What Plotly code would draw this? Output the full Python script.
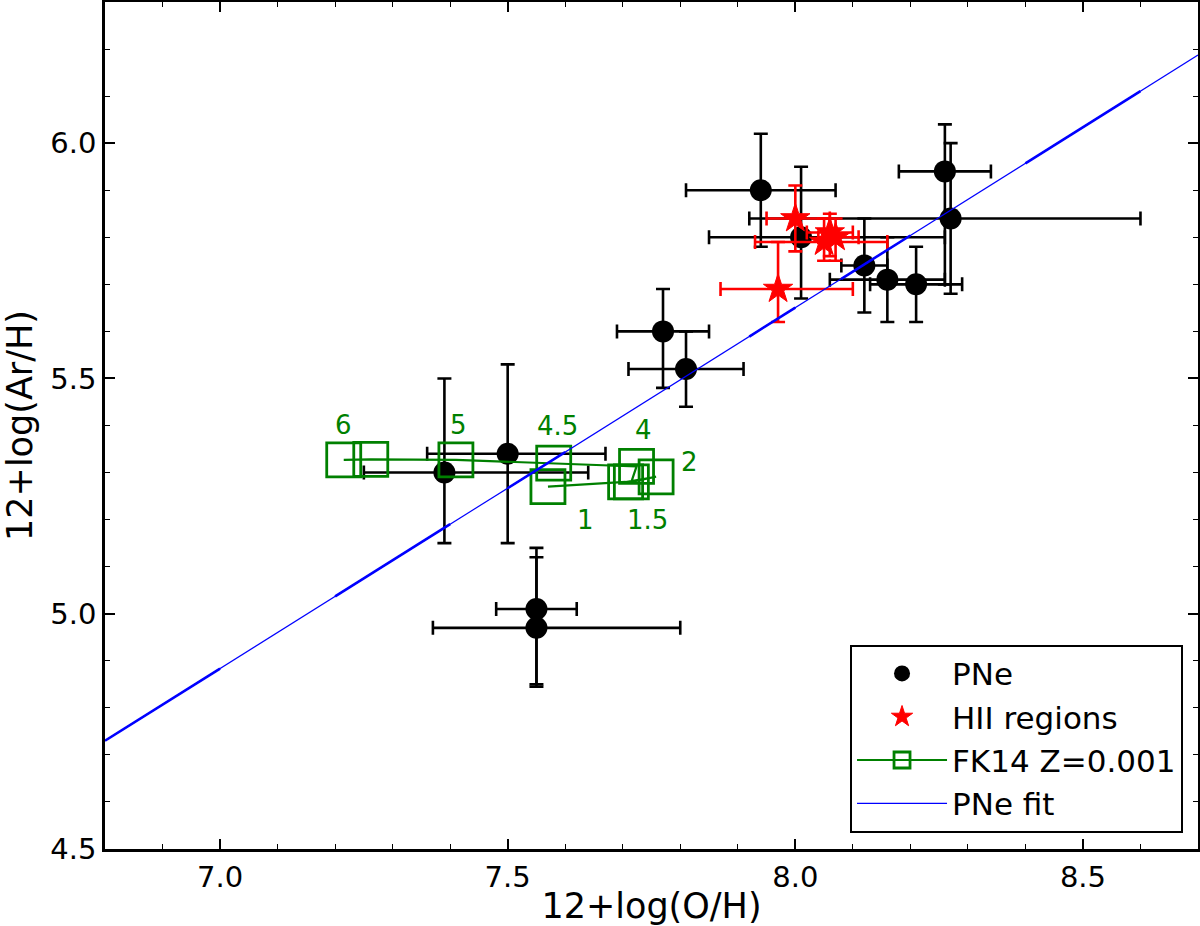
import plotly.graph_objects as go

# ---------------- data ----------------
# PNe (12+log(O/H), 12+log(Ar/H)) with lower/upper error limits
pne_x    = [7.94, 8.01, 8.26, 8.27, 8.12, 8.16, 8.21, 7.77, 7.81, 7.50, 7.39, 7.55, 7.55]
pne_x_lo = [7.81, 7.85, 8.18, 7.92, 8.08, 8.06, 8.13, 7.69, 7.71, 7.36, 7.25, 7.48, 7.37]
pne_x_hi = [8.07, 8.26, 8.34, 8.60, 8.16, 8.26, 8.29, 7.85, 7.91, 7.67, 7.64, 7.62, 7.80]
pne_y    = [5.90, 5.80, 5.94, 5.84, 5.74, 5.71, 5.70, 5.60, 5.52, 5.34, 5.30, 5.01, 4.97]
pne_y_lo = [5.78, 5.67, 5.70, 5.68, 5.64, 5.62, 5.62, 5.48, 5.44, 5.15, 5.15, 4.85, 4.845]
pne_y_hi = [6.02, 5.95, 6.04, 6.00, 5.84, 5.80, 5.78, 5.69, 5.60, 5.53, 5.50, 5.14, 5.12]

# HII regions
hii_x    = [8.00, 7.97, 8.05, 8.06, 8.07]
hii_x_lo = [7.95, 7.87, 7.93, 8.02, 8.04]
hii_x_hi = [8.06, 8.10, 8.16, 8.10, 8.11]
hii_y    = [5.84, 5.69, 5.79, 5.81, 5.80]
hii_y_lo = [5.77, 5.62, 5.75, 5.76, 5.75]
hii_y_hi = [5.91, 5.79, 5.84, 5.85, 5.84]

# FK14 Z=0.001 models, ordered by initial mass
fk_mass   = [1, 1.5, 2, 3, 4, 4.5, 5, 5.5, 6]
fk_x      = [7.57, 7.705, 7.758, 7.715, 7.724, 7.58, 7.41, 7.262, 7.215]
fk_y      = [5.27, 5.28, 5.291, 5.28, 5.313, 5.32, 5.327, 5.328, 5.327]
fk_labels = ["1", "1.5", "2", "", "4", "4.5", "5", "", "6"]
# label offsets in pixels (style)
fk_lab_dx = [38, 22, 33, 0, 7, 4, 3, 0, 0]
fk_lab_dy = [-33, -38, 15, 0, 36, 37, 35, 0, 35]

# PNe fit: y = a + b*x
fit_a = 4.73 - 0.767 * 6.8
fit_b = 0.767
fit_x_range = [6.8, 8.7]
fit_thick_segments = [(6.8, 7.0), (7.2, 7.4), (7.5, 7.6), (7.92, 8.0), (8.08, 8.2), (8.4, 8.6)]

x_ticks = [7.0, 7.5, 8.0, 8.5]
y_ticks = [4.5, 5.0, 5.5, 6.0]

# ---------------- figure ----------------
FONT = "DejaVu Sans"
fig = go.Figure()

def errs(v, lo, hi):
    return [h - c for c, h in zip(v, hi)], [c - l for c, l in zip(v, lo)]

px_, mx_ = errs(pne_x, pne_x_lo, pne_x_hi)
py_, my_ = errs(pne_y, pne_y_lo, pne_y_hi)
fig.add_trace(go.Scatter(
    x=pne_x, y=pne_y, mode="markers", name="PNe",
    marker=dict(symbol="circle", size=22, color="black"),
    error_x=dict(type="data", symmetric=False, array=px_, arrayminus=mx_,
                 color="black", thickness=2.6, width=7),
    error_y=dict(type="data", symmetric=False, array=py_, arrayminus=my_,
                 color="black", thickness=2.6, width=7),
))

hx, hmx = errs(hii_x, hii_x_lo, hii_x_hi)
hy, hmy = errs(hii_y, hii_y_lo, hii_y_hi)
fig.add_trace(go.Scatter(
    x=hii_x, y=hii_y, mode="markers", name="HII regions",
    marker=dict(symbol="star", size=22, color="red", line=dict(width=1, color="red")),
    error_x=dict(type="data", symmetric=False, array=hx, arrayminus=hmx,
                 color="red", thickness=2.6, width=7),
    error_y=dict(type="data", symmetric=False, array=hy, arrayminus=hmy,
                 color="red", thickness=2.6, width=7),
))

fig.add_trace(go.Scatter(
    x=fk_x, y=fk_y, mode="lines+markers", name="FK14 Z=0.001",
    line=dict(color="green", width=2.2),
    marker=dict(symbol="square-open", size=34, color="green", line=dict(width=2.8, color="green")),
))

fig.add_trace(go.Scatter(
    x=fit_x_range, y=[fit_a + fit_b * v for v in fit_x_range], mode="lines",
    name="PNe fit",
    line=dict(color="blue", width=1.2),
))
for (x0, x1) in fit_thick_segments:
    fig.add_trace(go.Scatter(
        x=[x0, x1], y=[fit_a + fit_b * x0, fit_a + fit_b * x1], mode="lines",
        showlegend=False, hoverinfo="skip",
        line=dict(color="blue", width=2.6),
    ))

for lab, x, y, dx, dy in zip(fk_labels, fk_x, fk_y, fk_lab_dx, fk_lab_dy):
    if lab:
        fig.add_annotation(x=x, y=y, text=lab, showarrow=False, xshift=dx, yshift=dy,
                           font=dict(family=FONT, size=26, color="green"))

axis_common = dict(
    showline=True, linecolor="black", linewidth=2.5, mirror="ticks",
    ticks="inside", ticklen=10, tickwidth=1.5, tickcolor="black",
    showgrid=False, zeroline=False, automargin=False,
    tickfont=dict(family=FONT, size=29, color="black"),
    tickformat=".1f",
    minor=dict(ticks="inside", ticklen=5, tickwidth=1.2, tickcolor="black", dtick=0.1, showgrid=False),
)

fig.update_layout(
    width=1200, height=926,
    margin=dict(l=105, r=2, t=2, b=77),
    paper_bgcolor="white", plot_bgcolor="white",
    font=dict(family=FONT, color="black"),
    xaxis=dict(range=[6.8, 8.7], tickvals=x_ticks,
               title=dict(text="12+log(O/H)", font=dict(family=FONT, size=35), standoff=2),
               **axis_common),
    yaxis=dict(range=[4.5, 6.3], tickvals=y_ticks,
               title=dict(text="12+log(Ar/H)", font=dict(family=FONT, size=35), standoff=8),
               **axis_common),
    legend=dict(x=0.9863, y=0.0192, xanchor="right", yanchor="bottom",
                bgcolor="white", bordercolor="black", borderwidth=2,
                font=dict(family=FONT, size=31), itemwidth=90,
                traceorder="normal"),
    showlegend=True,
)

fig.write_html("out.html", config={"displayModeBar": False},
               post_script="document.body.style.margin='0';document.body.style.overflow='hidden';")
